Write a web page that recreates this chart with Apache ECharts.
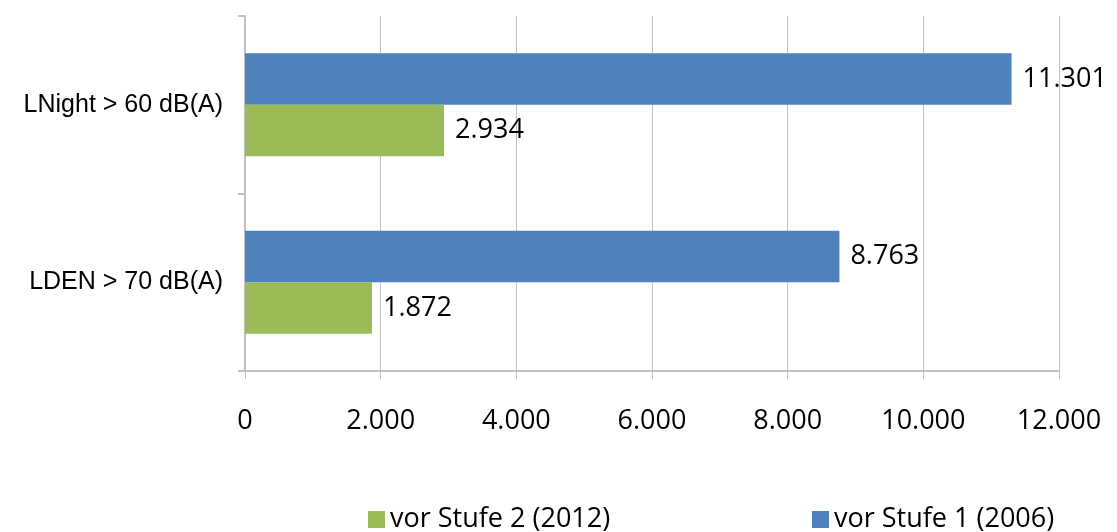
<!DOCTYPE html>
<html>
<head>
<meta charset="utf-8">
<script src="https://cdn.jsdelivr.net/npm/echarts@6/dist/echarts.min.js"></script>
<style>
  html, body { margin: 0; padding: 0; background: #fff; }
  #chart { width: 1117px; height: 532px; }
</style>
</head>
<body>
<div id="chart"></div>
<script>
// Kategorien (von unten nach oben)
var categories = ['LDEN > 70 dB(A)', 'LNight > 60 dB(A)'];
var seriesNames = ['vor Stufe 2 (2012)', 'vor Stufe 1 (2006)'];
var stufe2 = [1872, 2934];
var stufe1 = [8763, 11301];
var xTicks = [0, 2000, 4000, 6000, 8000, 10000, 12000];

// Tausenderpunkt wie im Original
function fmt(v) {
  return String(v).replace(/\B(?=(\d{3})+(?!\d))/g, '.');
}

var chart = echarts.init(document.getElementById('chart'));

var numFont = 'Open Sans';
var numSize = 27;

function barLabel() {
  return {
    show: true, position: 'right', distance: 11,
    fontFamily: numFont, fontSize: numSize, color: '#000',
    formatter: function (p) { return fmt(p.value); }
  };
}

chart.setOption({
  animation: false,
  grid: { left: 245, right: 58, top: 16, bottom: 161 },
  legend: [
    {
      data: [seriesNames[0]],
      left: 363, top: 501,
      itemWidth: 17, itemHeight: 17, itemGap: 10,
      icon: 'rect',
      textStyle: { fontFamily: numFont, fontSize: numSize, color: '#000' }
    },
    {
      data: [seriesNames[1]],
      left: 807, top: 501,
      itemWidth: 17, itemHeight: 17, itemGap: 10,
      icon: 'rect',
      textStyle: { fontFamily: numFont, fontSize: numSize, color: '#000' }
    }
  ],
  xAxis: {
    type: 'value',
    min: xTicks[0],
    max: xTicks[xTicks.length - 1],
    interval: 2000,
    axisLine: { show: true, lineStyle: { color: '#bfbfbf', width: 2 } },
    axisTick: { show: true, length: 8, lineStyle: { color: '#bfbfbf' } },
    splitLine: { show: true, lineStyle: { color: '#bfbfbf', width: 1 } },
    axisLabel: {
      margin: 37,
      fontFamily: numFont, fontSize: numSize, color: '#000',
      formatter: function (v) { return fmt(v); }
    }
  },
  yAxis: {
    type: 'category',
    data: categories,
    axisLine: { show: true, lineStyle: { color: '#bfbfbf', width: 2 } },
    axisTick: { show: true, length: 7, lineStyle: { color: '#bfbfbf', width: 2 } },
    axisLabel: {
      margin: 22,
      fontFamily: 'Liberation Sans', fontSize: 25, color: '#000'
    }
  },
  // in ECharts liegt die erste Serie oben, daher Stufe 1 zuerst
  series: [
    {
      name: seriesNames[1],
      type: 'bar',
      data: stufe1,
      barCategoryGap: '42%',
      barGap: '0%',
      itemStyle: { color: '#4f81bd' },
      label: barLabel()
    },
    {
      name: seriesNames[0],
      type: 'bar',
      data: stufe2,
      barCategoryGap: '42%',
      barGap: '0%',
      itemStyle: { color: '#9bbb59' },
      label: barLabel()
    }
  ]
});
</script>
</body>
</html>
